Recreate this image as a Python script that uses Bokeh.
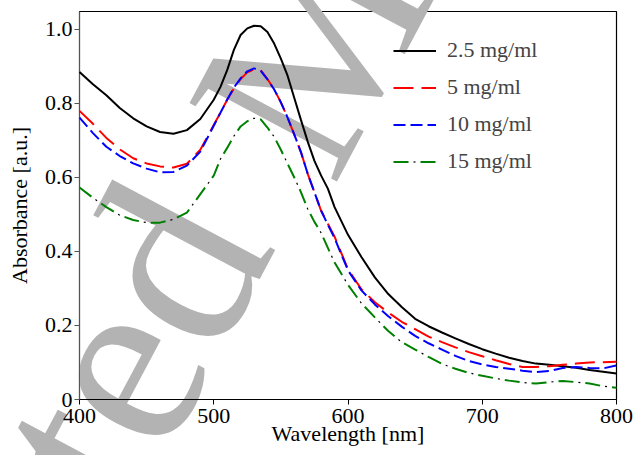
from bokeh.plotting import figure
from bokeh.models import Range1d, Legend, LegendItem, FixedTicker
from bokeh.core.properties import value
from bokeh.embed import file_html
from bokeh.resources import INLINE

wavelength = [400, 410, 420, 430, 440, 450, 460, 470, 480, 490, 500, 505, 510, 515, 520, 525,
              530, 535, 540, 545, 550, 555, 560, 565, 570, 575, 580, 585, 590, 600, 610, 620,
              630, 640, 650, 660, 670, 680, 690, 700, 710, 720, 730, 740, 750, 760, 770, 780,
              790, 800]

abs_2_5 = [0.885, 0.852, 0.822, 0.788, 0.760, 0.738, 0.723, 0.718, 0.728, 0.758, 0.810, 0.845,
           0.890, 0.945, 0.985, 1.003, 1.010, 1.009, 0.993, 0.962, 0.921, 0.875, 0.815, 0.755,
           0.697, 0.645, 0.605, 0.570, 0.520, 0.445, 0.385, 0.330, 0.285, 0.250, 0.218, 0.198,
           0.181, 0.165, 0.150, 0.136, 0.124, 0.113, 0.104, 0.097, 0.094, 0.090, 0.086, 0.080,
           0.075, 0.070]

abs_5 = [0.780, 0.745, 0.707, 0.676, 0.652, 0.638, 0.630, 0.627, 0.637, 0.675, 0.742, 0.775,
         0.810, 0.840, 0.866, 0.884, 0.892, 0.890, 0.866, 0.838, 0.803, 0.762, 0.716, 0.668,
         0.610, 0.560, 0.510, 0.475, 0.440, 0.352, 0.298, 0.263, 0.235, 0.210, 0.190, 0.170,
         0.155, 0.141, 0.128, 0.117, 0.106, 0.096, 0.088, 0.088, 0.090, 0.094, 0.097, 0.100,
         0.101, 0.102]

abs_10 = [0.762, 0.720, 0.683, 0.658, 0.638, 0.624, 0.614, 0.615, 0.632, 0.670, 0.740, 0.775,
          0.810, 0.843, 0.868, 0.887, 0.895, 0.888, 0.865, 0.838, 0.803, 0.762, 0.716, 0.668,
          0.610, 0.560, 0.510, 0.472, 0.436, 0.349, 0.295, 0.257, 0.225, 0.197, 0.172, 0.152,
          0.135, 0.118, 0.104, 0.095, 0.088, 0.083, 0.078, 0.074, 0.077, 0.085, 0.088, 0.085,
          0.084, 0.092]

abs_15 = [0.573, 0.545, 0.520, 0.498, 0.485, 0.478, 0.478, 0.487, 0.505, 0.555, 0.605, 0.650,
          0.680, 0.712, 0.738, 0.752, 0.760, 0.757, 0.735, 0.710, 0.675, 0.637, 0.600, 0.560,
          0.515, 0.480, 0.450, 0.410, 0.370, 0.310, 0.260, 0.222, 0.185, 0.155, 0.135, 0.115,
          0.096, 0.083, 0.072, 0.064, 0.057, 0.051, 0.046, 0.043, 0.047, 0.050, 0.047, 0.043,
          0.036, 0.032]

labels = ["2.5 mg/ml", "5 mg/ml", "10 mg/ml", "15 mg/ml"]
x_ticks = [400, 500, 600, 700, 800]
y_ticks = [0, 0.2, 0.4, 0.6, 0.8, 1.0]
y_tick_labels = ["0", "0.2", "0.4", "0.6", "0.8", "1.0"]
watermark_words = ["Accepted", "Manuscript"]

FONT = "Liberation Serif, serif"
FS = "22px"

p = figure(width=637, height=455, output_backend="svg", toolbar_location=None,
           x_range=Range1d(400, 800), y_range=Range1d(0, 1.0486),
           min_border_left=79, min_border_right=21, min_border_top=11, min_border_bottom=56)
p.background_fill_color = "white"
p.border_fill_color = "white"
p.grid.visible = False
p.outline_line_color = "black"
p.outline_line_width = 1.2

# watermark: unclipped "guide" level, below the axes and the data
wm_color = "#b3b3b3"
p.text(x=[490.3], y=[0.521], text=[watermark_words[0]], angle=62, angle_units="deg",
       text_align="right", text_baseline="alphabetic", text_font=value(FONT),
       text_font_size="255px", text_color=wm_color, level="guide")
p.text(x=[532.6], y=[0.681], text=[watermark_words[1]], angle=62, angle_units="deg",
       text_align="left", text_baseline="alphabetic", text_font=value(FONT),
       text_font_size="255px", text_color=wm_color, level="guide")

r1 = p.line(wavelength, abs_2_5, line_color="black", line_width=2, level="overlay")
r2 = p.line(wavelength, abs_5, line_color="#ff0000", line_width=2, line_dash="20 8",
            level="overlay")
r3 = p.line(wavelength, abs_10, line_color="#0000ff", line_width=2, line_dash="12 5",
            level="overlay")
r4 = p.line(wavelength, abs_15, line_color="#008000", line_width=2, line_dash="15 12",
            level="overlay")
r4d = p.line(wavelength, abs_15, line_color="black", line_width=1.2, line_dash="2 25",
             line_dash_offset=7, level="overlay")

for ax in (p.xaxis, p.yaxis):
    ax.level = "annotation"
    ax.major_label_text_font = FONT
    ax.major_label_text_font_size = FS
    ax.axis_label_text_font = FONT
    ax.axis_label_text_font_size = FS
    ax.axis_label_text_font_style = "normal"
    ax.major_tick_in = 0
    ax.major_tick_out = 5
    ax.minor_tick_line_color = None
    ax.major_label_text_color = "black"
    ax.axis_label_text_color = "black"

p.xaxis.ticker = FixedTicker(ticks=x_ticks)
p.yaxis.ticker = FixedTicker(ticks=y_ticks)
p.yaxis.major_label_overrides = {t: l for t, l in zip(y_ticks, y_tick_labels)}
p.xaxis.axis_label = "Wavelength [nm]"
p.yaxis.axis_label = "Absorbance [a.u.]"
p.xaxis.major_label_standoff = 4
p.yaxis.major_label_standoff = 2
p.xaxis.axis_label_standoff = -5
p.yaxis.axis_label_standoff = 10
p.yaxis.axis_line_color = "#555555"
p.yaxis.major_tick_line_color = "#555555"

legend = Legend(items=[LegendItem(label=labels[0], renderers=[r1]),
                       LegendItem(label=labels[1], renderers=[r2]),
                       LegendItem(label=labels[2], renderers=[r3]),
                       LegendItem(label=labels[3], renderers=[r4, r4d])],
                location=(314, 225), padding=0, margin=0, border_line_color=None,
                background_fill_alpha=0, glyph_width=43, glyph_height=25,
                label_height=25, label_standoff=11, spacing=11,
                label_text_font=FONT, label_text_font_size=FS, level="overlay")
p.add_layout(legend)

open("out.html", "w").write(file_html(p, INLINE))
